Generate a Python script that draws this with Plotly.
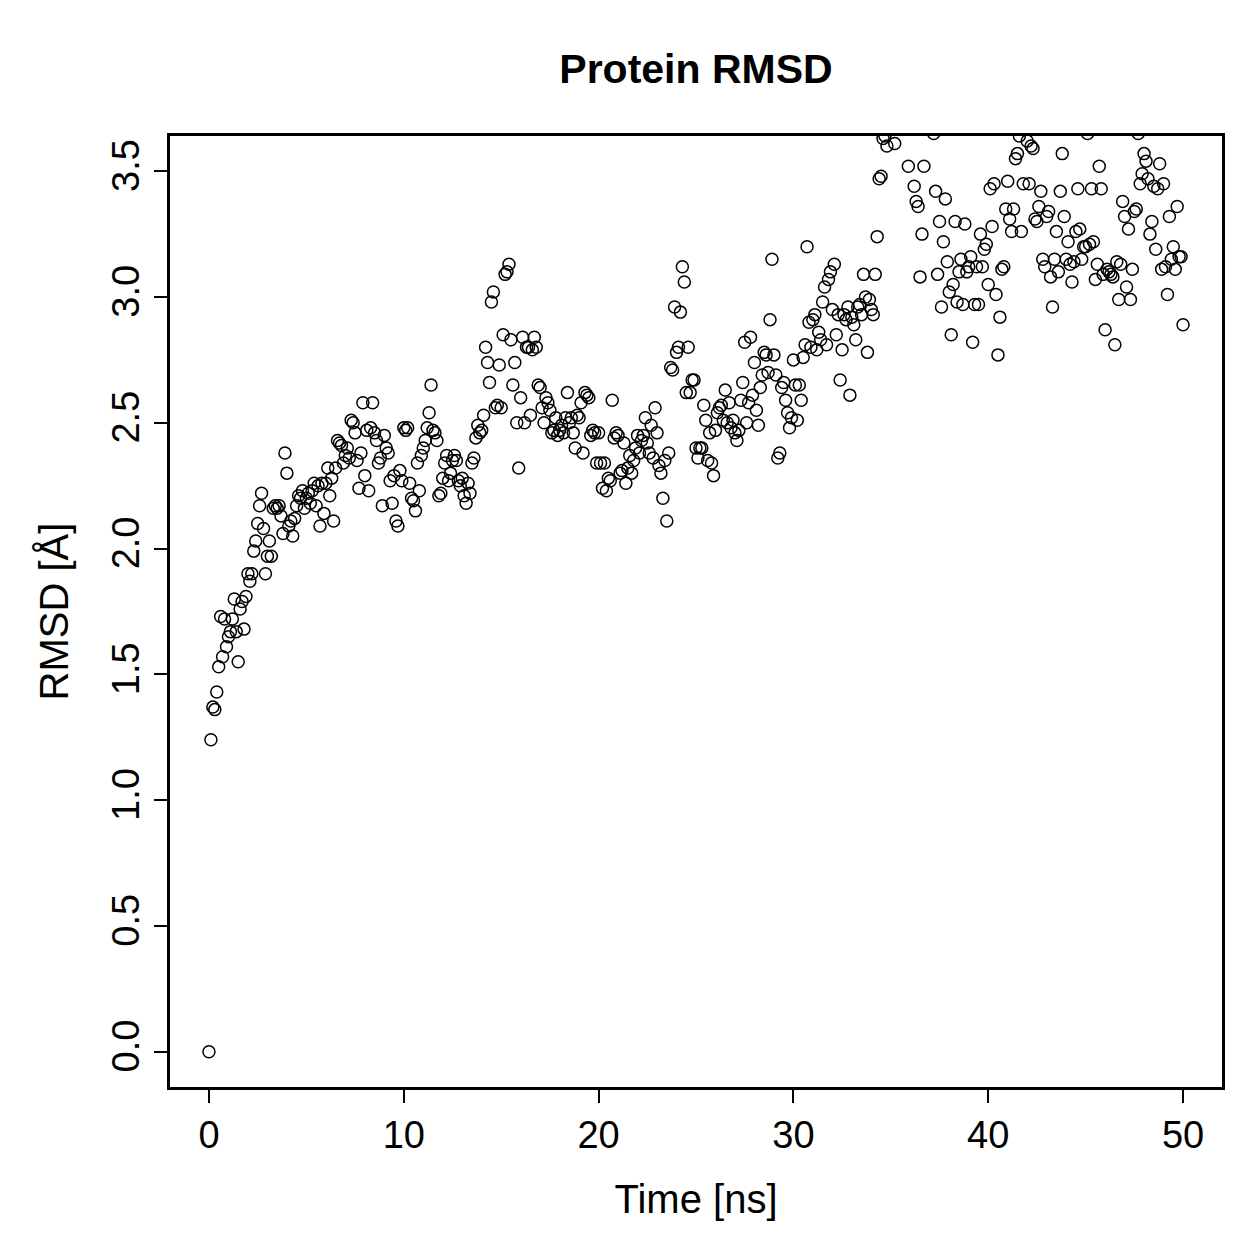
import plotly.graph_objects as go

rmsd_0_5 = [0.00, 1.24, 1.37, 1.36, 1.43, 1.53, 1.73, 1.57, 1.72, 1.61,
            1.65, 1.67, 1.72, 1.80, 1.67, 1.55, 1.76, 1.79, 1.68, 1.81,
            1.90, 1.87, 1.90, 1.99, 2.03, 2.10, 2.17, 2.22, 2.08, 1.90,
            1.97, 2.03, 1.97, 2.16, 2.17, 2.16, 2.17, 2.13, 2.06, 2.38,
            2.30, 2.09, 2.11, 2.05, 2.12, 2.17, 2.21, 2.20, 2.23, 2.16]
rmsd_5_10 = [2.20, 2.22, 2.18, 2.23, 2.26, 2.17, 2.25, 2.09, 2.26, 2.14,
             2.26, 2.32, 2.21, 2.28, 2.11, 2.32, 2.43, 2.42, 2.41, 2.34,
             2.37, 2.40, 2.36, 2.51, 2.50, 2.46, 2.35, 2.24, 2.38, 2.58,
             2.29, 2.47, 2.23, 2.48, 2.58, 2.46, 2.43, 2.34, 2.36, 2.17,
             2.45, 2.40, 2.38, 2.27, 2.18, 2.29, 2.11, 2.09, 2.31, 2.27]
rmsd_10_15 = [2.48, 2.47, 2.48, 2.26, 2.20, 2.19, 2.15, 2.34, 2.23, 2.37,
              2.40, 2.43, 2.48, 2.54, 2.65, 2.47, 2.46, 2.43, 2.21, 2.22,
              2.28, 2.34, 2.37, 2.27, 2.30, 2.35, 2.37, 2.35, 2.27, 2.25,
              2.28, 2.21, 2.18, 2.26, 2.22, 2.34, 2.36, 2.44, 2.49, 2.46,
              2.47, 2.53, 2.80, 2.74, 2.66, 2.98, 3.02, 2.56, 2.57, 2.73]
rmsd_15_20 = [2.56, 2.85, 3.09, 3.10, 3.13, 2.83, 2.65, 2.74, 2.50, 2.32,
              2.60, 2.84, 2.50, 2.80, 2.80, 2.53, 2.79, 2.84, 2.80, 2.65,
              2.64, 2.56, 2.50, 2.60, 2.58, 2.55, 2.46, 2.47, 2.52, 2.45,
              2.47, 2.49, 2.46, 2.52, 2.62, 2.50, 2.52, 2.46, 2.40, 2.53,
              2.52, 2.58, 2.38, 2.62, 2.61, 2.60, 2.45, 2.47, 2.46, 2.34]
rmsd_20_25 = [2.46, 2.34, 2.24, 2.34, 2.23, 2.28, 2.27, 2.59, 2.44, 2.46,
              2.45, 2.30, 2.31, 2.42, 2.26, 2.32, 2.37, 2.30, 2.35, 2.40,
              2.45, 2.38, 2.43, 2.45, 2.52, 2.42, 2.38, 2.49, 2.36, 2.56,
              2.46, 2.33, 2.30, 2.20, 2.35, 2.11, 2.38, 2.72, 2.71, 2.96,
              2.78, 2.80, 2.94, 3.12, 3.06, 2.62, 2.80, 2.62, 2.67, 2.67]
rmsd_25_30 = [2.40, 2.36, 2.40, 2.40, 2.57, 2.51, 2.35, 2.46, 2.34, 2.29,
              2.47, 2.54, 2.56, 2.57, 2.51, 2.63, 2.50, 2.58, 2.48, 2.51,
              2.46, 2.43, 2.47, 2.59, 2.66, 2.82, 2.50, 2.58, 2.84, 2.61,
              2.74, 2.55, 2.49, 2.64, 2.69, 2.78, 2.77, 2.70, 2.91, 3.15,
              2.77, 2.69, 2.36, 2.38, 2.64, 2.66, 2.59, 2.54, 2.48, 2.52]
rmsd_30_35 = [2.75, 2.65, 2.51, 2.65, 2.59, 2.76, 2.81, 3.20, 2.90, 2.80,
              2.91, 2.93, 2.79, 2.86, 2.83, 2.98, 3.04, 2.81, 3.07, 3.10,
              2.95, 3.13, 2.85, 2.93, 2.67, 2.79, 2.93, 2.91, 2.96, 2.61,
              2.92, 2.89, 2.83, 2.96, 2.97, 2.93, 3.09, 3.00, 2.78, 2.99,
              2.95, 2.93, 3.09, 3.24, 3.47, 3.48, 3.63, 3.64, 3.60, 3.70]
rmsd_35_40 = [3.70, 3.75, 3.61, 3.75, 3.80, 3.72, 3.70, 3.68, 3.75, 3.52,
              3.70, 3.80, 3.44, 3.38, 3.36, 3.08, 3.25, 3.52, 3.70, 3.75,
              3.68, 3.72, 3.65, 3.42, 3.09, 3.30, 2.96, 3.22, 3.39, 3.14,
              3.02, 2.85, 3.05, 3.30, 2.98, 3.10, 3.15, 2.97, 3.29, 3.10,
              3.12, 3.16, 2.82, 2.97, 3.12, 2.97, 3.25, 3.12, 3.19, 3.21]
rmsd_40_45 = [3.05, 3.43, 3.28, 3.45, 3.01, 2.77, 2.92, 3.11, 3.12, 3.35,
              3.46, 3.31, 3.26, 3.35, 3.55, 3.57, 3.64, 3.26, 3.45, 3.70,
              3.62, 3.45, 3.60, 3.59, 3.31, 3.30, 3.36, 3.42, 3.15, 3.12,
              3.32, 3.34, 3.08, 2.96, 3.15, 3.26, 3.10, 3.42, 3.57, 3.32,
              3.15, 3.22, 3.13, 3.06, 3.14, 3.26, 3.43, 3.27, 3.15, 3.20]
rmsd_45_50 = [3.20, 3.65, 3.21, 3.43, 3.22, 3.07, 3.13, 3.52, 3.43, 3.09,
              2.87, 3.11, 3.10, 3.09, 3.08, 2.81, 3.14, 2.99, 3.13, 3.38,
              3.32, 3.04, 3.27, 2.99, 3.11, 3.34, 3.35, 3.65, 3.45, 3.49,
              3.57, 3.54, 3.47, 3.25, 3.30, 3.44, 3.19, 3.43, 3.53, 3.11,
              3.45, 3.12, 3.01, 3.32, 3.15, 3.20, 3.11, 3.36, 3.16, 3.16,
              2.89]

rmsd = (rmsd_0_5 + rmsd_5_10 + rmsd_10_15 + rmsd_15_20 + rmsd_20_25 +
        rmsd_25_30 + rmsd_30_35 + rmsd_35_40 + rmsd_40_45 + rmsd_45_50)
time_ns = [round(i * 0.1, 1) for i in range(len(rmsd))]

x_ticks = [0, 10, 20, 30, 40, 50]
y_ticks = [0.0, 0.5, 1.0, 1.5, 2.0, 2.5, 3.0, 3.5]
y_tick_labels = ["0.0", "0.5", "1.0", "1.5", "2.0", "2.5", "3.0", "3.5"]

FONT = "Liberation Sans, Arial, Helvetica, sans-serif"

fig = go.Figure()
fig.add_trace(go.Scatter(
    x=time_ns, y=rmsd, mode="markers",
    marker=dict(symbol="circle-open", size=12, color="black",
                line=dict(color="black", width=1.5)),
    showlegend=False, hoverinfo="x+y",
))

fig.update_layout(
    width=1259, height=1259,
    paper_bgcolor="white", plot_bgcolor="white",
    margin=dict(l=170, r=37, t=136, b=172),
    font=dict(family=FONT, color="black"),
    title=dict(text="<b>Protein RMSD</b>", font=dict(size=41, family=FONT, color="black"),
               x=0.5, xref="paper", xanchor="center",
               y=1 - 69 / 1259, yref="container", yanchor="middle"),
)
fig.update_xaxes(
    range=[-2, 52], tickvals=x_ticks, ticktext=[str(v) for v in x_ticks],
    ticks="outside", ticklen=13, tickwidth=2, tickcolor="black",
    showline=True, mirror=True, linewidth=2.5, linecolor="black",
    showgrid=False, zeroline=False,
    tickfont=dict(size=38, family=FONT, color="black"),
    title=dict(text="Time [ns]", font=dict(size=40, family=FONT, color="black"), standoff=30),
)
fig.update_yaxes(
    range=[-0.14, 3.64], tickvals=y_ticks, ticktext=y_tick_labels, tickangle=-90,
    ticks="outside", ticklen=13, tickwidth=2, tickcolor="black",
    showline=True, mirror=True, linewidth=2.5, linecolor="black",
    showgrid=False, zeroline=False,
    tickfont=dict(size=38, family=FONT, color="black"),
    title=dict(text="RMSD [Å]", font=dict(size=40, family=FONT, color="black"), standoff=25),
)

fig.write_html("out.html")
